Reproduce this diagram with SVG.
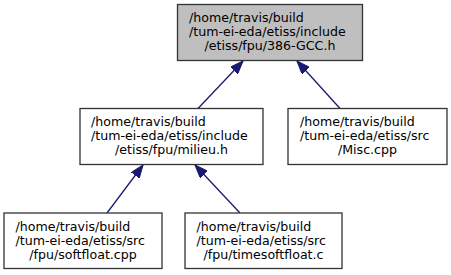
<svg xmlns="http://www.w3.org/2000/svg" width="451" height="275" viewBox="0 0 451 275">
  <style>
    .box { fill: #ffffff; stroke: #333333; stroke-width: 1.3; }
    .root { fill: #bfbfbf; }
    .lbl { font-family: "DejaVu Sans", sans-serif; font-size: 12.6px; fill: #000000; }
    .c { text-anchor: middle; }
    .edge { fill: none; stroke: #191970; stroke-width: 1.3; marker-end: url(#head); }
  </style>
  <defs>
    <marker id="head" markerUnits="userSpaceOnUse" viewBox="0 0 13 10" refX="13" refY="5" markerWidth="13" markerHeight="10" orient="auto">
      <path d="M0,0 L13,5 L0,10 z" fill="#191970" stroke="#191970" stroke-width="1"/>
    </marker>
  </defs>
  <rect width="451" height="275" fill="#ffffff"/>

  <g id="connectors">
    <path class="edge" d="M198,108.5 L243,61"/>
    <path class="edge" d="M340,108.5 L297,61"/>
    <path class="edge" d="M107,213 L143,165"/>
    <path class="edge" d="M240,213 L195,165"/>
  </g>

  <g id="node-386-gcc">
    <rect class="box root" x="177.5" y="4.5" width="185" height="56"/>
    <text class="lbl" x="189" y="22">/home/travis/build</text>
    <text class="lbl" x="189" y="36">/tum-ei-eda/etiss/include</text>
    <text class="lbl c" x="270" y="50">/etiss/fpu/386-GCC.h</text>
  </g>

  <g id="node-milieu">
    <rect class="box" x="80" y="108.5" width="183" height="56"/>
    <text class="lbl" x="91" y="126">/home/travis/build</text>
    <text class="lbl" x="91" y="140">/tum-ei-eda/etiss/include</text>
    <text class="lbl c" x="171.5" y="154">/etiss/fpu/milieu.h</text>
  </g>

  <g id="node-misc">
    <rect class="box" x="288" y="108.5" width="159" height="56"/>
    <text class="lbl" x="300" y="126">/home/travis/build</text>
    <text class="lbl" x="300" y="140">/tum-ei-eda/etiss/src</text>
    <text class="lbl c" x="367.5" y="154">/Misc.cpp</text>
  </g>

  <g id="node-softfloat">
    <rect class="box" x="4" y="213" width="158" height="55.5"/>
    <text class="lbl" x="15.5" y="230.5">/home/travis/build</text>
    <text class="lbl" x="15.5" y="244.5">/tum-ei-eda/etiss/src</text>
    <text class="lbl c" x="83" y="258.5">/fpu/softfloat.cpp</text>
  </g>

  <g id="node-timesoftfloat">
    <rect class="box" x="185" y="213" width="157" height="55.5"/>
    <text class="lbl" x="196.5" y="230.5">/home/travis/build</text>
    <text class="lbl" x="196.5" y="244.5">/tum-ei-eda/etiss/src</text>
    <text class="lbl c" x="263.5" y="258.5">/fpu/timesoftfloat.c</text>
  </g>
</svg>
